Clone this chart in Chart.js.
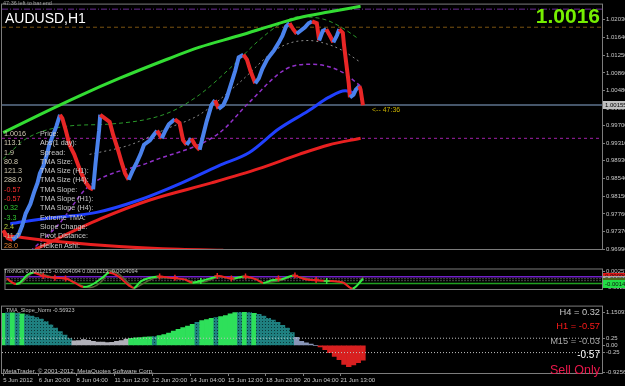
<!DOCTYPE html>
<html>
<head>
<meta charset="utf-8">
<script src="https://cdn.jsdelivr.net/npm/chart.js@4.4.1/dist/chart.umd.min.js"></script>
<style>
html, body { margin: 0; padding: 0; background: #000; width: 625px; height: 386px; overflow: hidden; }
#wrap { position: relative; width: 625px; height: 386px; font-family: "Liberation Sans", Arial, sans-serif; }
canvas { position: absolute; left: 0; }
.t { position: absolute; white-space: nowrap; line-height: 1; }
.info { position: absolute; top: 129px; font-size: 7.2px; line-height: 9.3px; }
</style>
</head>
<body>
<div id="wrap">
  <canvas id="mainChart" width="625" height="264" style="top:0"></canvas>
  <canvas id="oscChart" width="625" height="40" style="top:264px"></canvas>
  <canvas id="histChart" width="625" height="84" style="top:302px"></canvas>

  <div class="t" style="left:3px;top:1px;font-size:5.5px;color:#a0a0a0">47:36 left to bar end</div>
  <div class="t" style="left:5px;top:11px;font-size:14px;color:#fff">AUDUSD,H1</div>
  <div class="t" style="right:25px;top:5px;font-size:21px;font-weight:bold;color:#76ee00">1.0016</div>
  <div class="t" style="left:372px;top:105.5px;font-size:7px;color:#c8b000">&lt;-- 47:36</div>

  <div class="info" style="left:4px">
    <div style="color:#d0c8b0">1.0016</div>
    <div style="color:#d0c8b0">113.1</div>
    <div style="color:#d0c8b0">1.9</div>
    <div style="color:#d0c8b0">80.8</div>
    <div style="color:#d0c8b0">121.3</div>
    <div style="color:#d0c8b0">288.0</div>
    <div style="color:#ff3030">-0.57</div>
    <div style="color:#ff3030">-0.57</div>
    <div style="color:#33cc33">0.32</div>
    <div style="color:#33cc33">-3.3</div>
    <div style="color:#b8d040">2.4</div>
    <div style="color:#c8b890">-11.7</div>
    <div style="color:#e08030">28.0</div>
  </div>
  <div class="info" style="left:40px;color:#c8c8c8">
    <div>Price:</div>
    <div>Abs(1 day):</div>
    <div>Spread:</div>
    <div>TMA Size:</div>
    <div>TMA Size (H1):</div>
    <div>TMA Size (H4):</div>
    <div>TMA Slope:</div>
    <div>TMA Slope (H1):</div>
    <div>TMA Slope (H4):</div>
    <div>Extreme TMA:</div>
    <div>Slope Change:</div>
    <div>Pivot Distance:</div>
    <div>Heiken Ashi:</div>
  </div>

  <div class="t" style="left:4px;top:269px;font-size:5.5px;color:#c0c0c0">TrixNGs 0.0001215 -0.0004094 0.0001215 -0.0004094</div>
  <div class="t" style="left:6px;top:308px;font-size:5.5px;color:#c0c0c0">TMA_Slope_Norm -0.56923</div>
  <div class="t" style="left:3px;top:368px;font-size:6.2px;color:#c8c8c8">MetaTrader, © 2001-2012, MetaQuotes Software Corp.</div>

  <div class="t" style="right:25px;top:307.5px;font-size:9.3px;color:#c8c8c8">H4 = 0.32</div>
  <div class="t" style="right:25px;top:321.5px;font-size:9.3px;color:#ff1a1a">H1 = -0.57</div>
  <div class="t" style="right:25px;top:336.5px;font-size:9.3px;color:#a8a8a8">M15 = -0.03</div>
  <div class="t" style="right:25px;top:349.5px;font-size:10px;color:#fff">-0.57</div>
  <div class="t" style="right:25px;top:364px;font-size:12.5px;color:#e8174a">Sell Only</div>
</div>

<script>
// ---- time axis (H1 bars from the left edge) ----
const xTickBars = [0, 30, 62, 94, 126, 158, 190, 222, 254, 285];
const xTickLabels = ["5 Jun 2012", "6 Jun 20:00", "8 Jun 04:00", "11 Jun 12:00", "12 Jun 20:00",
    "14 Jun 04:00", "15 Jun 12:00", "18 Jun 20:00", "20 Jun 04:00", "21 Jun 13:00"];

// ---- main pane ----
const mainTicks = [0.9699, 0.9737, 0.9776, 0.9815, 0.9854, 0.9893, 0.9931, 0.9970,
    1.0009, 1.0048, 1.0086, 1.0125, 1.0164, 1.0203];
const currentPrice = 1.00155;

const priceBars = [0,4,8,13,16,19,23,26,29,31,34,37,39,42,45,48,50,53,56,60,63,66,70,73,76,78,81,82,86,90,
    93,97,100,103,106,109,113,116,119,124,127,130,134,137,140,145,149,152,155,159,162,166,169,172,176,179,182,186,189,192,
    196,199,203,206,209,213,216,219,223,226,229,233,236,239,242,245,248,251,255,258,261,265,267,270,273,276,279,282,284,287,
    288,290,292,293,296,298,301,302,304];
const priceClose = [0.9740,0.9723,0.9719,0.9730,0.9750,0.9777,0.9798,0.9823,0.9844,0.9865,
    0.9882,0.9907,0.9928,0.9949,0.9969,0.9994,0.9986,0.9959,0.9928,0.9907,
    0.9886,0.9865,0.9844,0.9834,0.9830,0.9886,0.9959,0.9994,0.9986,0.9978,
    0.9949,0.9917,0.9890,0.9865,0.9851,0.9869,0.9890,0.9907,0.9928,0.9938,
    0.9949,0.9959,0.9942,0.9959,0.9973,0.9984,0.9976,0.9938,0.9928,0.9942,
    0.9928,0.9917,0.9949,0.9980,1.0015,1.0026,1.0007,1.0015,1.0032,1.0057,
    1.0090,1.0120,1.0126,1.0115,1.0090,1.0063,1.0074,1.0095,1.0115,1.0126,
    1.0136,1.0153,1.0168,1.0188,1.0195,1.0182,1.0172,1.0178,1.0186,1.0195,
    1.0199,1.0195,1.0157,1.0178,1.0182,1.0168,1.0153,1.0168,1.0182,1.0174,
    1.0147,1.0105,1.0063,1.0032,1.0038,1.0049,1.0057,1.0049,1.0015];

const upperBandBars = [0,31,65,98,138,166,199,233,250,275,302];
const upperBand = [0.99548,0.99944,1.00361,1.00737,1.01154,1.01425,1.01675,1.01947,1.02072,1.02197,1.02322];

const maBlueBars = [6,39,79,115,149,182,208,233,258,275,289,296];
const maBlue = [0.97545,0.97670,0.97795,0.98067,0.98421,0.98818,0.99110,0.99631,1.00028,1.00320,1.00466,1.00424];

const lowerBandBars = [27,82,124,176,216,250,275,302];
const lowerBand = [0.96982,0.97650,0.98067,0.98442,0.98755,0.99068,0.99276,0.99422];

const fallingRedBars = [0,48,98,149,186];
const fallingRed = [0.97295,0.97149,0.97044,0.96982,0.96961];

const tmaUpperBars = [0,20,56,90,138,166,191,216,235,250,272,287,300];
const tmaUpper = [0.98964,0.99423,0.99694,0.99735,0.99965,1.00382,1.00945,1.01571,1.01947,1.02093,1.02030,1.01842,1.01613];

const tmaMidBars = [73,107,138,166,199,230,244,258,269,286,302];
const tmaMid = [0.99068,0.99276,0.99631,0.99944,1.00632,1.01362,1.01529,1.01571,1.01529,1.01362,1.01091];

const tmaLowerBars = [23,48,71,124,182,208,239,261,286,302];
const tmaLower = [0.96940,0.97566,0.98338,0.98901,0.99527,1.00215,1.00945,1.01050,1.00883,1.00570];

const levelTop = 1.02260;
const levelHigh = 1.01863;
const levelLow = 0.99422;

// ---- oscillator pane ----
const oscTicks = [0.00257, -0.00224];
const oscBars = [0,8,11,18,23,31,41,51,58,65,71,82,87,95,104,108,114,121,129,141,
    151,158,165,175,180,192,202,212,218,225,235,244,252,262,276,286,294,303];
const oscMain = [0.0003,-0.0013,-0.0010,0.0016,0.0021,0.0011,0.0006,0.0003,-0.0010,-0.0022,
    -0.0018,0.0008,0.0021,0.0010,-0.0018,-0.0025,-0.0005,0.0005,0.0010,0.0005,
    0.0001,-0.0009,-0.0004,0.0006,0.0011,0.0003,0.0010,0.0001,-0.0010,-0.0002,
    0.0003,0.0013,0.0003,-0.0002,-0.0004,-0.0009,-0.0027,0.0003];
const oscSignal = [0.0004,-0.0014,-0.0013,0.0009,0.0023,0.0016,0.0006,0.0002,-0.0008,-0.0020,
    -0.0024,0.0000,0.0028,0.0018,-0.0012,-0.0026,-0.0016,-0.0002,0.0007,0.0005,
    0.0001,-0.0006,-0.0008,0.0002,0.0009,0.0005,0.0007,0.0002,-0.0009,-0.0007,
    0.0000,0.0011,0.0006,-0.0001,-0.0004,-0.0008,-0.0028,0.0008];
const oscSellFlagBars = [31, 41, 50, 130, 143, 179, 191, 203, 231, 245, 263];
const oscSellFlags = [0.0011, 0.0006, 0.0004, 0.0010, 0.0006, 0.0011, 0.0004, 0.0010, 0.0004, 0.0013, -0.0001];
const oscBuyFlagBars = [165, 272];
const oscBuyFlags = [-0.0004, -0.0004];
const oscLevels = [0.0009, 0.0003, -0.0003, -0.0012];
const oscMarks = [0.0009, 0.0000, -0.0007, -0.0014];

// ---- slope histogram pane ----
const histTicks = [1.15093, 0.25, 0.00, -0.25, -0.92569];
const histBars = [0,4,8,12,16,20,24,28,32,36,40,44,48,52,56,60,64,68,72,76,
    80,84,88,92,96,100,104,108,112,116,120,124,128,132,136,140,144,148,152,156,
    160,164,168,172,176,180,184,188,192,196,200,204,208,212,216,220,224,228,232,236,
    240,244,248,252,256,260,264,268,272,276,280,284,288,292,296,300,304];
const histValues = [1.12,1.13,1.13,1.12,1.10,1.06,1.02,0.97,0.92,0.83,
    0.72,0.60,0.48,0.36,0.24,0.16,0.17,0.20,0.18,0.14,
    0.12,0.12,0.10,0.11,0.14,0.17,0.22,0.25,0.26,0.27,
    0.29,0.30,0.31,0.34,0.38,0.43,0.50,0.56,0.62,0.67,
    0.73,0.80,0.86,0.90,0.94,0.97,1.00,1.04,1.10,1.14,
    1.15,1.15,1.14,1.12,1.08,1.02,0.94,0.88,0.80,0.70,
    0.60,0.45,0.28,0.14,0.09,0.05,0.00,-0.05,-0.15,-0.25,
    -0.38,-0.50,-0.66,-0.74,-0.68,-0.60,-0.51];
const histState = "gtgtgttttttttttssssssssssssgggggtggggggggtgggtggggtgtgttttttttbbbbbrrrrrrrrrr";
const histLevels = [0.25, -0.25];

// ---- helpers ----
const FRAME = "#7c7c7c";
const TXT = "#c8c8c8";
const pts = (xs, ys) => xs.map((x, i) => ({ x, y: ys[i] }));
const flat = (v) => [{ x: -1, y: v }, { x: 506, y: v }];

function rightAxis(min, max, tickVals, fmt) {
    return {
        position: "right",
        min, max,
        afterBuildTicks: (s) => { s.ticks = tickVals.map((v) => ({ value: v })); },
        afterFit: (s) => { s.width = 23; },
        grid: { drawOnChartArea: false, drawTicks: true, tickLength: 3, color: FRAME },
        border: { display: true, color: FRAME },
        ticks: { color: TXT, autoSkip: false, padding: 1, font: { size: 6, family: "Liberation Sans" }, callback: fmt },
    };
}

function timeAxis(show) {
    return {
        type: "linear",
        min: -1,
        max: 506,
        offset: false,
        display: show,
        afterBuildTicks: (s) => { s.ticks = xTickBars.map((v) => ({ value: v })); },
        afterFit: (s) => { s.height = 13; },
        grid: { drawOnChartArea: false, offset: false, tickLength: 3, color: FRAME },
        border: { display: true, color: FRAME },
        ticks: {
            color: TXT, align: "start", maxRotation: 0, autoSkip: false, padding: 1,
            font: { size: 6, family: "Liberation Sans" },
            callback: (v, i) => xTickLabels[i],
        },
    };
}

const framePlugin = {
    id: "frame",
    afterDraw(chart) {
        const { ctx, chartArea: a } = chart;
        ctx.save();
        ctx.strokeStyle = FRAME;
        ctx.lineWidth = 1;
        ctx.strokeRect(a.left - 0.5, a.top - 0.5, a.right - a.left + 1, a.bottom - a.top + 1);
        ctx.restore();
    },
};

function axisBox(chart, value, bg, fg, label) {
    const { ctx } = chart;
    const y = chart.scales.y.getPixelForValue(value);
    ctx.save();
    ctx.fillStyle = bg;
    ctx.fillRect(chart.chartArea.right + 1, Math.round(y) - 4, 24, 8);
    ctx.fillStyle = fg;
    ctx.font = "6px 'Liberation Sans'";
    ctx.textBaseline = "middle";
    ctx.fillText(label, chart.chartArea.right + 3, y);
    ctx.restore();
}

const line = (data, color, width, dash, order) => ({
    type: "line", data, borderColor: color, borderWidth: width, borderDash: dash || [],
    pointRadius: 0, fill: false, cubicInterpolationMode: "monotone", order: order || 5,
});

const flags = (data, color) => ({
    type: "line", data, showLine: false, pointStyle: "cross", pointRadius: 3,
    borderColor: color, pointBorderWidth: 1.5, order: 0,
});

const baseOptions = (yAxis, showX, padBottom) => ({
    responsive: false,
    animation: false,
    events: [],
    layout: { padding: { left: 2, top: 2, bottom: padBottom, right: 0 } },
    plugins: { legend: { display: false }, tooltip: { enabled: false } },
    scales: { x: timeAxis(showX), y: yAxis },
});

// ---- main chart ----
new Chart(document.getElementById("mainChart"), {
    type: "line",
    data: {
        datasets: [
            line(flat(levelTop), "#6c2c96", 1, [6, 2, 1, 2], 9),
            line(flat(levelHigh), "#7a5210", 1, [4, 3], 9),
            line(flat(levelLow), "#a020a8", 1, [3, 3], 9),
            line(flat(currentPrice), "#46566a", 2, [], 9),
            line(pts(fallingRedBars, fallingRed), "#e82020", 3, [], 6),
            line(pts(lowerBandBars, lowerBand), "#e82020", 3, [], 6),
            line(pts(maBlueBars, maBlue), "#2040ff", 3, [], 6),
            line(pts(upperBandBars, upperBand), "#33dd33", 3, [], 6),
            line(pts(tmaUpperBars, tmaUpper), "#2a9a2a", 1, [4, 3], 7),
            line(pts(tmaMidBars, tmaMid), "#8a8a8a", 1, [2, 3], 7),
            line(pts(tmaLowerBars, tmaLower), "#9030c8", 1.5, [4, 3], 7),
            {
                type: "line",
                data: pts(priceBars, priceClose),
                borderWidth: 4,
                pointRadius: 0,
                order: 1,
                segment: { borderColor: (c) => (c.p1.parsed.y >= c.p0.parsed.y ? "#4a82ec" : "#e82626") },
            },
        ],
    },
    options: baseOptions(rightAxis(0.9699, 1.0236, mainTicks, (v) => Number(v).toFixed(5)), false, 2),
    plugins: [framePlugin, {
        id: "priceBox",
        afterDraw(chart) { axisBox(chart, currentPrice, "#c0c0c0", "#000", currentPrice.toFixed(5)); },
    }],
});

// ---- oscillator ----
const oscMarkColors = ["#e01818", "#a8a8a8", "#4a6a1a", "#22dd44"];
new Chart(document.getElementById("oscChart"), {
    type: "line",
    data: {
        datasets: [
            line(flat(oscLevels[0]), "#7020c8", 1.5, [], 9),
            line(flat(oscLevels[1]), "#909090", 1, [1, 2], 9),
            line(flat(oscLevels[2]), "#909090", 1, [1, 2], 9),
            line(flat(oscLevels[3]), "#20a020", 1.5, [], 9),
            line(pts(oscBars, oscSignal), "#5a6038", 1.5, [], 4),
            {
                type: "line",
                data: pts(oscBars, oscMain),
                borderWidth: 2,
                pointRadius: 0,
                cubicInterpolationMode: "monotone",
                order: 1,
                segment: { borderColor: (c) => (c.p1.parsed.y >= c.p0.parsed.y ? "#33ee44" : "#ee2222") },
            },
            flags(pts(oscSellFlagBars, oscSellFlags), "#ee2222"),
            flags(pts(oscBuyFlagBars, oscBuyFlags), "#33ee44"),
        ],
    },
    options: baseOptions(rightAxis(-0.00285, 0.00312, oscTicks, (v) => Number(v).toFixed(5)), false, 2),
    plugins: [framePlugin, {
        id: "oscBoxes",
        afterDraw(chart) {
            oscMarks.forEach((v, i) => axisBox(chart, v, oscMarkColors[i], "#111", v.toFixed(5)));
        },
    }],
});

// ---- slope histogram ----
const histCanvas = document.getElementById("histChart");
function tealPattern() {
    const c = document.createElement("canvas");
    c.width = 3; c.height = 3;
    const g = c.getContext("2d");
    g.fillStyle = "#1f8080";
    g.fillRect(0, 0, 3, 3);
    g.fillStyle = "#0b3838";
    g.fillRect(1, 1, 1, 1);
    return histCanvas.getContext("2d").createPattern(c, "repeat");
}
const histPalette = { g: "#2ee05a", t: tealPattern(), s: "#b0b0b8", b: "#8896b8", r: "#d82020" };

new Chart(histCanvas, {
    type: "bar",
    data: {
        datasets: [
            {
                type: "bar",
                data: pts(histBars, histValues),
                backgroundColor: histBars.map((b, i) => histPalette[histState[i]]),
                barPercentage: 1,
                categoryPercentage: 1,
                order: 5,
            },
            line(flat(histLevels[0]), "#c0c0c0", 1, [1, 2], 1),
            line(flat(histLevels[1]), "#c0c0c0", 1, [1, 2], 1),
        ],
    },
    options: baseOptions(rightAxis(-0.96, 1.35, histTicks, (v) => (Math.abs(v) > 0.9 ? Number(v).toFixed(5) : Number(v).toFixed(2))), true, 0),
    plugins: [framePlugin],
});
</script>
</body>
</html>
